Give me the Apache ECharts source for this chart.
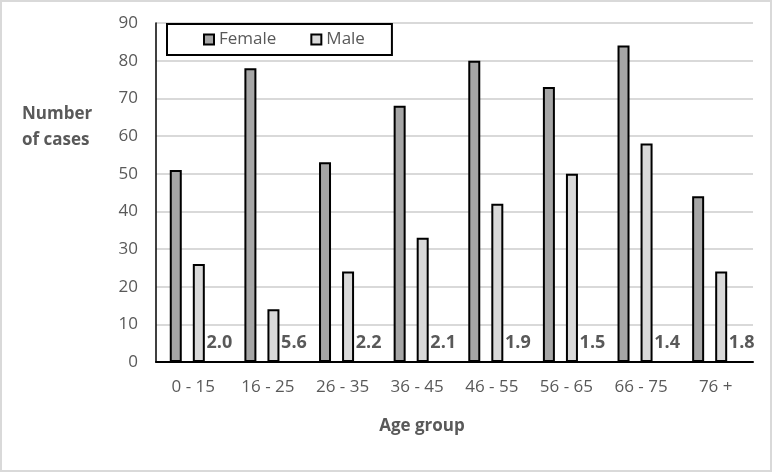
<!DOCTYPE html>
<html>
<head>
<meta charset="utf-8">
<script src="https://cdn.jsdelivr.net/npm/echarts@6/dist/echarts.min.js"></script>
<style>
html,body{margin:0;padding:0;background:#fff;}
#chart{width:772px;height:472px;}
</style>
</head>
<body>
<div id="chart"></div>
<script>
const categories = ['0 - 15', '16 - 25', '26 - 35', '36 - 45', '46 - 55', '56 - 65', '66 - 75', '76 +'];
const female = [51, 78, 53, 68, 80, 73, 84, 44];
const male = [26, 14, 24, 33, 42, 50, 58, 24];
const ratios = ['2.0', '5.6', '2.2', '2.1', '1.9', '1.5', '1.4', '1.8'];
const yTicks = { min: 0, max: 90, interval: 10 };

const FONT = '"Open Sans", sans-serif';
const GREY = '#595959';

const chart = echarts.init(document.getElementById('chart'), null, { renderer: 'canvas' });
chart.setOption({
  animation: false,
  backgroundColor: '#ffffff',
  grid: { left: 156, right: 19, top: 23, bottom: 110, containLabel: false },
  legend: {
    data: ['Female', 'Male'],
    left: 167,
    top: 24,
    orient: 'horizontal',
    padding: [7, 27, 7, 36],
    itemGap: 34,
    itemWidth: 10,
    itemHeight: 10,
    icon: 'rect',
    backgroundColor: '#ffffff',
    borderColor: '#000000',
    borderWidth: 2,
    borderRadius: 0,
    textStyle: { fontFamily: FONT, fontSize: 17, color: GREY },
    z: 10
  },
  xAxis: {
    type: 'category',
    data: categories,
    axisLine: { show: true, lineStyle: { color: '#000', width: 2 } },
    axisTick: { show: false },
    axisLabel: { fontFamily: FONT, fontSize: 17, color: GREY, margin: 17 },
    splitLine: { show: false }
  },
  yAxis: {
    type: 'value',
    min: yTicks.min,
    max: yTicks.max,
    interval: yTicks.interval,
    axisLine: { show: true, lineStyle: { color: '#000', width: 1.5 } },
    axisTick: { show: false },
    axisLabel: { fontFamily: FONT, fontSize: 17, color: GREY, margin: 18 },
    splitLine: { show: true, lineStyle: { color: '#d9d9d9', width: 2 } }
  },
  series: [
    {
      name: 'Female',
      type: 'bar',
      data: female,
      barWidth: 12,
      barGap: '92%',
      itemStyle: { color: '#a6a6a6', borderColor: '#000', borderWidth: 2 }
    },
    {
      name: 'Male',
      type: 'bar',
      data: male,
      barWidth: 12,
      itemStyle: { color: '#d9d9d9', borderColor: '#000', borderWidth: 2 }
    },
    {
      name: 'Ratio',
      type: 'bar',
      data: ratios.map(Number),
      barWidth: 1,
      itemStyle: { color: 'rgba(0,0,0,0)', borderWidth: 0 },
      label: {
        show: true,
        position: ['50%', '100%'],
        align: 'center',
        verticalAlign: 'middle',
        offset: [3, -19],
        fontFamily: FONT,
        fontSize: 18,
        fontWeight: 'bold',
        color: GREY,
        formatter: function (p) { return ratios[p.dataIndex]; }
      },
      silent: true
    }
  ],
  graphic: [
    {
      type: 'rect',
      shape: { x: 1, y: 1, width: 770, height: 470 },
      style: { fill: 'none', stroke: '#d9d9d9', lineWidth: 2 },
      silent: true,
      z: -1
    },
    {
      type: 'text',
      x: 22,
      y: 101,
      style: {
        text: 'Number\nof cases',
        font: 'bold 17px ' + FONT,
        lineHeight: 26,
        fill: GREY,
        textAlign: 'left',
        textVerticalAlign: 'top'
      }
    },
    {
      type: 'text',
      x: 422,
      y: 426,
      style: {
        text: 'Age group',
        font: 'bold 17px ' + FONT,
        fill: GREY,
        textAlign: 'center',
        textVerticalAlign: 'middle'
      }
    }
  ]
});
</script>
</body>
</html>
